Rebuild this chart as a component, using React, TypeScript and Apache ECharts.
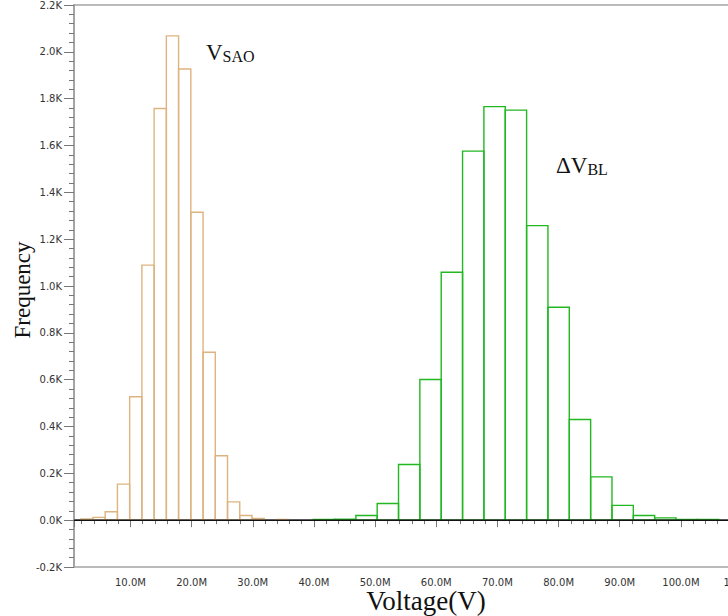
import React, { useEffect, useRef } from "react";
import * as echarts from "echarts";

// V_SAO histogram (bins in mV, counts)
const vsaoBinStart = [1.87, 3.87, 5.87, 7.87, 9.87, 11.87, 13.87, 15.87, 17.87, 19.87, 21.87, 23.87, 25.87, 27.87, 29.87, 31.87, 33.87];
const vsaoBinEnd = [3.87, 5.87, 7.87, 9.87, 11.87, 13.87, 15.87, 17.87, 19.87, 21.87, 23.87, 25.87, 27.87, 29.87, 31.87, 33.87, 35.87];
const vsaoCounts = [5, 12, 36, 154, 527, 1089, 1758, 2068, 1927, 1315, 717, 275, 78, 20, 7, 0, 3];

// ΔV_BL histogram
const dvblBinStart = [39.87, 43.36, 46.85, 50.34, 53.83, 57.32, 60.81, 64.3, 67.79, 71.28, 74.77, 78.26, 81.75, 85.24, 88.73, 92.22, 95.71, 99.2, 102.69];
const dvblBinEnd = [43.36, 46.85, 50.34, 53.83, 57.32, 60.81, 64.3, 67.79, 71.28, 74.77, 78.26, 81.75, 85.24, 88.73, 92.22, 95.71, 99.2, 102.69, 106.18];
const dvblCounts = [3, 4, 20, 71, 238, 601, 1059, 1576, 1766, 1751, 1258, 909, 430, 185, 63, 20, 10, 3, 3];

const xRange = [0.77, 118];
const yRange = [-200, 2200];
const baselineX = [0.77, 118];

const SERIF = '"Liberation Serif", "Times New Roman", serif';
const SANS = '"DejaVu Sans", sans-serif';
const AXIS_GRAY = "#a4a4a4";

function histSeries(name: string, starts: number[], ends: number[], counts: number[], color: string) {
  return {
    type: "custom",
    name,
    data: starts.map((s, i) => [s, ends[i], counts[i]]),
    encode: { x: [0, 1], y: 2 },
    renderItem: (_params: any, api: any) => {
      const x0 = api.value(0);
      const x1 = api.value(1);
      const c = api.value(2);
      if (!c) return null;
      const p0 = api.coord([x0, c]);
      const p1 = api.coord([x1, 0]);
      return {
        type: "rect",
        shape: { x: p0[0], y: p0[1], width: p1[0] - p0[0], height: p1[1] - p0[1] },
        style: { fill: "none", stroke: color, lineWidth: 1.4 },
      };
    },
    z: 2,
  };
}

export default function App() {
  const ref = useRef<HTMLDivElement>(null);
  useEffect(() => {
    if (!ref.current) return;
    const chart = echarts.init(ref.current, undefined, { renderer: "svg" });
    chart.setOption({
      animation: false,
      backgroundColor: "#ffffff",
      grid: {
        left: 74,
        top: 5,
        bottom: 49,
        right: 9,
        show: true,
        borderColor: AXIS_GRAY,
        borderWidth: 1.5,
        backgroundColor: "transparent",
      },
      xAxis: {
        type: "value",
        min: xRange[0],
        max: xRange[1],
        minInterval: 10,
        maxInterval: 10,
        splitNumber: 12,
        axisLine: { show: true, lineStyle: { color: AXIS_GRAY, width: 2 } },
        axisTick: { show: true, length: 7, lineStyle: { color: "#777", width: 1 } },
        minorTick: { show: true, splitNumber: 5, length: 4, lineStyle: { color: "#777", width: 1 } },
        splitLine: { show: false },
        axisLabel: {
          margin: 10,
          fontFamily: SANS,
          fontSize: 10,
          color: "#333",
          showMinLabel: true,
          showMaxLabel: true,
          formatter: (v: number) => {
            const r = Math.round(v);
            if (Math.abs(v - r) > 1e-6 || r % 10 !== 0 || r <= 0) return "";
            return r.toFixed(1) + "M";
          },
        },
      },
      yAxis: {
        type: "value",
        min: yRange[0],
        max: yRange[1],
        interval: 200,
        axisLine: { show: true, lineStyle: { color: AXIS_GRAY, width: 2 } },
        axisTick: { show: true, length: 10, lineStyle: { color: "#777", width: 1 } },
        minorTick: { show: true, splitNumber: 5, length: 5, lineStyle: { color: "#777", width: 1 } },
        splitLine: { show: false },
        axisLabel: {
          margin: 12,
          fontFamily: SANS,
          fontSize: 10,
          color: "#333",
          formatter: (v: number) => (v / 1000).toFixed(1) + "K",
        },
      },
      series: [
        histSeries("VSAO", vsaoBinStart, vsaoBinEnd, vsaoCounts, "#DDB480"),
        histSeries("ΔVBL", dvblBinStart, dvblBinEnd, dvblCounts, "#22B822"),
        {
          type: "line",
          name: "baseline",
          data: baselineX.map((x) => [x, 0]),
          symbol: "none",
          lineStyle: { color: "#111", width: 1.5 },
          z: 3,
        },
      ],
      graphic: [
        {
          type: "text",
          x: 22,
          y: 290,
          rotation: Math.PI / 2,
          style: {
            text: "Frequency",
            font: `23px ${SERIF}`,
            fill: "#111",
            textAlign: "center",
            textVerticalAlign: "middle",
          },
        },
        {
          type: "text",
          x: 426,
          y: 601,
          style: {
            text: "Voltage(V)",
            font: `27px ${SERIF}`,
            fill: "#111",
            textAlign: "center",
            textVerticalAlign: "middle",
          },
        },
        {
          type: "text",
          x: 206,
          y: 40,
          style: {
            text: "{v|V}{s|SAO}",
            fill: "#111",
            textAlign: "left",
            textVerticalAlign: "top",
            rich: {
              v: { fontFamily: SERIF, fontSize: 23, fill: "#111", verticalAlign: "bottom", lineHeight: 24 },
              s: { fontFamily: SERIF, fontSize: 16, fill: "#111", verticalAlign: "bottom", lineHeight: 24 },
            },
          },
        },
        {
          type: "text",
          x: 556,
          y: 153,
          style: {
            text: "{v|ΔV}{s|BL}",
            fill: "#111",
            textAlign: "left",
            textVerticalAlign: "top",
            rich: {
              v: { fontFamily: SERIF, fontSize: 23, fill: "#111", verticalAlign: "bottom", lineHeight: 24 },
              s: { fontFamily: SERIF, fontSize: 16, fill: "#111", verticalAlign: "bottom", lineHeight: 24 },
            },
          },
        },
      ],
    });
    return () => chart.dispose();
  }, []);
  return (
    <div style={{ position: "fixed", left: 0, top: 0, width: 728, height: 616, overflow: "hidden", background: "#fff" }}>
      <div ref={ref} style={{ width: 800, height: 616 }} />
    </div>
  );
}
